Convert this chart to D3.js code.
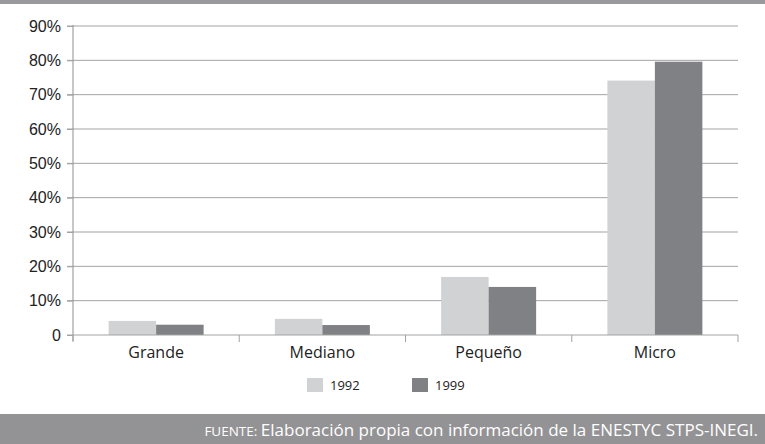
<!DOCTYPE html>
<html>
<head>
<meta charset="utf-8">
<script src="https://cdn.jsdelivr.net/npm/d3@7"></script>
<style>
  html, body { margin: 0; padding: 0; background: #fff; }
  svg { display: block; font-family: "Open Sans", "Noto Sans", sans-serif; }
</style>
</head>
<body>
<script>
var width = 765;
var height = 444;

var categories = ["Grande", "Mediano", "Pequeño", "Micro"];
var years = ["1992", "1999"];
var values1992 = [4.1, 4.7, 16.9, 74.1];
var values1999 = [3.0, 2.9, 14.0, 79.6];
var yTicks = [0, 10, 20, 30, 40, 50, 60, 70, 80, 90];
var barColors = ["#d1d2d4", "#808184"];

var margin = { left: 73, right: 27, top: 26, bottom: 109 };

var svg = d3.select("body").append("svg")
  .attr("width", width)
  .attr("height", height);

/* franja superior */
svg.append("rect")
  .attr("x", 0).attr("y", 0)
  .attr("width", width).attr("height", 4)
  .attr("fill", "#9a9a9c");

var x = d3.scaleBand()
  .domain(categories)
  .range([margin.left, width - margin.right]);

var xIn = d3.scaleBand()
  .domain(years)
  .range([0, x.bandwidth()])
  .paddingOuter(0.75);

var y = d3.scaleLinear()
  .domain([0, 90])
  .range([height - margin.bottom, margin.top]);

/* rejilla */
svg.append("g")
  .selectAll("line")
  .data(yTicks.filter(function (d) { return d > 0; }))
  .enter().append("line")
  .attr("x1", margin.left - 6)
  .attr("x2", width - margin.right)
  .attr("y1", function (d) { return y(d); })
  .attr("y2", function (d) { return y(d); })
  .attr("stroke", "#a3a3a5")
  .attr("stroke-width", 1);

/* barras */
var rows = categories.map(function (c, i) {
  return { cat: c, vals: [values1992[i], values1999[i]] };
});

var group = svg.append("g")
  .selectAll("g")
  .data(rows)
  .enter().append("g")
  .attr("transform", function (d) { return "translate(" + x(d.cat) + ",0)"; });

group.selectAll("rect")
  .data(function (d) { return d.vals.map(function (v, j) { return { year: years[j], v: v, j: j }; }); })
  .enter().append("rect")
  .attr("x", function (d) { return xIn(d.year); })
  .attr("width", xIn.bandwidth())
  .attr("y", function (d) { return y(d.v); })
  .attr("height", function (d) { return y(0) - y(d.v); })
  .attr("fill", function (d) { return barColors[d.j]; });

/* eje y */
var yAxis = svg.append("g")
  .attr("transform", "translate(" + margin.left + ",0)")
  .call(d3.axisLeft(y)
    .tickValues(yTicks)
    .tickSize(6)
    .tickFormat(function (d) { return d === 0 ? "0" : d + "%"; }));
yAxis.select(".domain").attr("stroke", "#8e8e90").attr("d", "M0," + (margin.top - 1) + "V" + (y(0) + 6));
yAxis.selectAll(".tick line").attr("stroke", "#a3a3a5");
yAxis.selectAll(".tick text")
  .attr("x", -12)
  .attr("fill", "#222")
  .style("font-size", "16px");

/* eje x */
var xAxis = svg.append("g")
  .attr("transform", "translate(0," + y(0) + ")");
xAxis.append("line")
  .attr("x1", margin.left - 6)
  .attr("x2", width - margin.right)
  .attr("stroke", "#a3a3a5");
var bounds = categories.map(function (c) { return x(c); }).concat([x.range()[1]]);
xAxis.selectAll(".sep")
  .data(bounds)
  .enter().append("line")
  .attr("class", "sep")
  .attr("x1", function (d) { return d; })
  .attr("x2", function (d) { return d; })
  .attr("y1", 0).attr("y2", 7)
  .attr("stroke", "#a3a3a5");
xAxis.selectAll("text")
  .data(categories)
  .enter().append("text")
  .attr("x", function (d) { return x(d) + x.bandwidth() / 2; })
  .attr("y", 23)
  .attr("text-anchor", "middle")
  .attr("fill", "#222")
  .style("font-size", "16px")
  .text(function (d) { return d; });

/* leyenda */
var legend = svg.append("g")
  .selectAll("g")
  .data(years)
  .enter().append("g")
  .attr("transform", function (d, i) { return "translate(" + (307 + i * 105) + ",378)"; });
legend.append("rect")
  .attr("width", 16).attr("height", 14)
  .attr("fill", function (d, i) { return barColors[i]; });
legend.append("text")
  .attr("x", 23).attr("y", 12)
  .attr("fill", "#222")
  .style("font-size", "13px")
  .text(function (d) { return d; });

/* fuente */
svg.append("rect")
  .attr("x", 0).attr("y", 414)
  .attr("width", width).attr("height", height - 414)
  .attr("fill", "#939395");

var src = svg.append("text")
  .attr("x", 758).attr("y", 436)
  .attr("text-anchor", "end")
  .attr("fill", "#fff");
src.append("tspan").style("font-size", "13.5px").text("FUENTE: ");
src.append("tspan").style("font-size", "17px").text("Elaboración propia con información de la ENESTYC STPS-INEGI.");
</script>
</body>
</html>
